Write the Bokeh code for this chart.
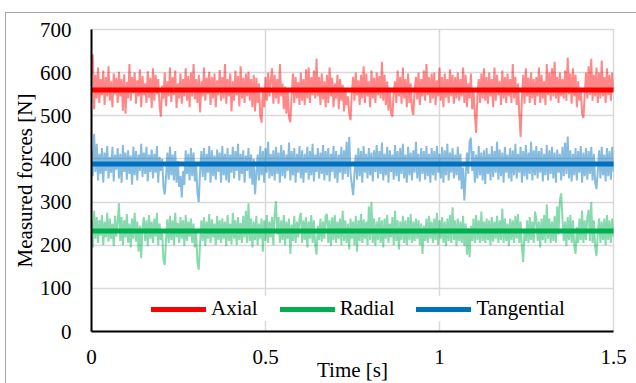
import numpy as np
from bokeh.plotting import figure
from bokeh.models import FixedTicker, Range1d, Legend, LegendItem
from bokeh.embed import file_html
from bokeh.resources import INLINE

# ---- data ----
axial = [
    600, 642, 515, 595, 540, 612, 530, 585, 548, 605, 525, 590, 545, 615, 535, 580, 520, 598, 550, 588,
    530, 602, 545, 585, 512, 596, 505, 578, 540, 620, 535, 590, 552, 600, 528, 582, 545, 608, 520, 592,
    548, 575, 530, 603, 542, 588, 518, 610, 535, 595, 550, 585, 525, 498, 570, 540, 600, 522, 580, 545,
    612, 532, 590, 548, 605, 518, 575, 540, 598, 528, 585, 545, 610, 535, 592, 520, 600, 545, 620, 538,
    585, 530, 595, 508, 580, 545, 612, 535, 588, 550, 602, 525, 590, 540, 598, 520, 582, 548, 606, 535,
    590, 540, 620, 528, 585, 545, 598, 510, 580, 535, 605, 548, 592, 522, 615, 540, 588, 530, 598, 545,
    602, 535, 585, 520, 595, 510, 588, 530, 575, 500, 484, 560, 520, 590, 535, 600, 545, 582, 610, 528,
    595, 540, 585, 528, 620, 545, 575, 515, 568, 505, 560, 495, 485, 550, 598, 530, 590, 540, 578, 525,
    600, 535, 585, 525, 608, 540, 612, 530, 590, 548, 605, 540, 632, 545, 590, 525, 598, 538, 580, 520,
    595, 530, 612, 545, 588, 520, 575, 540, 595, 515, 585, 535, 572, 510, 560, 525, 545, 505, 490, 555,
    590, 535, 600, 548, 582, 525, 595, 540, 615, 530, 598, 545, 580, 520, 605, 540, 588, 530, 600, 548,
    592, 540, 625, 535, 595, 525, 580, 512, 565, 505, 498, 555, 580, 530, 605, 545, 590, 528, 612, 540,
    585, 520, 598, 530, 575, 515, 502, 560, 590, 538, 600, 525, 585, 545, 605, 535, 620, 548, 590, 530,
    598, 540, 600, 525, 582, 545, 612, 535, 590, 520, 598, 542, 585, 530, 608, 545, 595, 528, 590, 540,
    600, 535, 585, 545, 612, 530, 595, 520, 575, 540, 598, 515, 560, 505, 460, 548, 585, 530, 598, 540,
    610, 535, 590, 528, 600, 545, 585, 520, 612, 535, 595, 548, 580, 525, 605, 540, 590, 530, 598, 545,
    585, 530, 620, 540, 590, 525, 575, 505, 451, 540, 595, 528, 610, 545, 588, 530, 600, 540, 585, 525,
    590, 545, 612, 530, 595, 540, 580, 525, 620, 548, 600, 535, 610, 545, 625, 540, 590, 530, 600, 545,
    585, 540, 605, 535, 635, 550, 598, 528, 610, 545, 595, 520, 580, 535, 565, 505, 495, 550, 600, 540,
    615, 548, 632, 535, 595, 545, 612, 530, 600, 540, 628, 545, 590, 530, 610, 548, 595, 535, 600, 560,
]
tangential = [
    420, 360, 458, 370, 435, 350, 412, 365, 425, 345, 415, 372, 430, 355, 405, 368, 428, 348, 410, 375,
    425, 355, 412, 345, 432, 370, 415, 352, 420, 365, 408, 340, 428, 362, 418, 350, 410, 372, 435, 358,
    415, 365, 428, 348, 410, 370, 422, 355, 412, 368, 430, 345, 405, 372, 400, 335, 318, 360, 415, 352,
    428, 362, 410, 350, 418, 345, 395, 335, 360, 311, 372, 340, 420, 365, 412, 350, 425, 360, 415, 348,
    385, 322, 300, 372, 418, 358, 425, 350, 412, 368, 430, 345, 420, 360, 408, 352, 422, 370, 415, 345,
    430, 362, 412, 350, 425, 345, 410, 368, 428, 355, 418, 372, 435, 350, 412, 365, 420, 345, 408, 372,
    425, 355, 410, 340, 400, 318, 365, 410, 350, 430, 362, 418, 345, 425, 368, 440, 355, 412, 360, 420,
    350, 428, 365, 415, 345, 432, 360, 420, 355, 410, 372, 438, 350, 418, 362, 425, 345, 412, 368, 430,
    355, 420, 345, 412, 368, 428, 352, 418, 362, 435, 348, 410, 370, 425, 355, 415, 365, 432, 350, 418,
    362, 425, 348, 412, 370, 430, 355, 418, 345, 410, 368, 428, 352, 420, 365, 440, 358, 451, 368, 340,
    316, 365, 410, 352, 425, 360, 418, 345, 430, 368, 412, 355, 425, 362, 415, 348, 420, 370, 432, 355,
    418, 365, 438, 350, 412, 362, 428, 345, 420, 370, 410, 352, 432, 360, 418, 348, 425, 365, 435, 355,
    410, 345, 428, 362, 415, 350, 420, 368, 440, 355, 412, 348, 425, 365, 418, 352, 430, 360, 412, 345,
    425, 362, 418, 350, 430, 368, 412, 355, 428, 345, 420, 362, 435, 350, 415, 368, 425, 355, 410, 362,
    428, 350, 412, 330, 380, 304, 360, 415, 365, 440, 449, 372, 418, 345, 410, 355, 430, 362, 415, 350,
    420, 342, 425, 365, 412, 350, 430, 358, 418, 368, 440, 352, 422, 360, 415, 345, 428, 368, 410, 355,
    425, 348, 420, 362, 435, 355, 412, 368, 428, 345, 418, 360, 432, 352, 415, 365, 440, 350, 420, 362,
    430, 355, 418, 368, 425, 348, 412, 362, 432, 350, 420, 365, 428, 355, 415, 345, 422, 368, 412, 350,
    428, 360, 438, 365, 452, 355, 420, 348, 412, 362, 425, 350, 418, 368, 430, 345, 415, 360, 425, 352,
    418, 365, 428, 350, 412, 345, 330, 372, 420, 355, 428, 362, 410, 348, 425, 360, 418, 352, 428, 370,
]
radial = [
    260, 195, 280, 215, 265, 205, 258, 222, 270, 200, 255, 218, 275, 208, 262, 215, 250, 198, 268, 220,
    255, 297, 210, 265, 200, 258, 218, 272, 205, 250, 195, 262, 215, 275, 208, 255, 185, 245, 170, 242,
    265, 210, 258, 198, 270, 215, 255, 205, 262, 220, 275, 200, 250, 212, 230, 165, 154, 215, 260, 205,
    268, 212, 258, 200, 275, 218, 252, 205, 265, 215, 258, 198, 270, 210, 255, 220, 262, 205, 250, 195,
    230, 160, 143, 205, 258, 210, 265, 198, 255, 215, 272, 205, 260, 218, 250, 200, 268, 212, 258, 205,
    262, 215, 255, 198, 270, 210, 250, 202, 275, 215, 258, 200, 265, 212, 252, 205, 268, 218, 280, 205,
    297, 210, 262, 195, 255, 212, 268, 200, 250, 215, 262, 185, 258, 210, 270, 205, 255, 218, 265, 200,
    272, 302, 225, 265, 205, 258, 212, 270, 200, 255, 215, 262, 180, 248, 210, 268, 205, 255, 218, 262,
    275, 205, 258, 212, 265, 195, 255, 215, 270, 205, 258, 200, 178, 245, 212, 262, 208, 255, 215, 268,
    272, 205, 258, 198, 265, 212, 270, 205, 255, 215, 262, 200, 280, 210, 258, 205, 250, 190, 262, 215,
    255, 200, 268, 185, 258, 210, 272, 205, 260, 215, 255, 200, 290, 212, 300, 205, 262, 198, 255, 212,
    265, 205, 258, 195, 262, 215, 270, 205, 250, 218, 265, 200, 280, 210, 258, 190, 255, 212, 268, 205,
    258, 200, 265, 212, 272, 205, 255, 210, 262, 215, 258, 200, 250, 180, 245, 210, 262, 205, 268, 215,
    255, 205, 262, 212, 275, 200, 258, 215, 265, 205, 255, 198, 262, 210, 270, 205, 288, 212, 258, 198,
    262, 210, 255, 205, 268, 198, 250, 178, 240, 172, 245, 210, 262, 205, 270, 212, 258, 205, 278, 210,
    255, 205, 262, 212, 258, 200, 265, 208, 255, 215, 268, 205, 258, 212, 285, 205, 262, 210, 250, 198,
    262, 212, 258, 205, 268, 215, 272, 205, 255, 195, 161, 235, 210, 258, 205, 265, 212, 255, 205, 278,
    262, 210, 255, 195, 262, 212, 270, 205, 295, 215, 262, 205, 255, 210, 268, 205, 290, 225, 305, 320,
    262, 210, 255, 198, 265, 212, 270, 205, 258, 200, 180, 242, 205, 262, 212, 280, 205, 258, 212, 265,
    282, 210, 300, 205, 258, 195, 175, 230, 262, 205, 255, 212, 262, 200, 270, 212, 258, 205, 262, 220,
]
series_names = ["Axial", "Radial", "Tangential"]
series_means = [560, 233, 388]
series_colors = ["#ff0000", "#00b050", "#0070c0"]
t_start, t_end = 0.0, 1.5
x_ticks = [0, 0.5, 1, 1.5]
x_tick_labels = ["0", "0.5", "1", "1.5"]
y_ticks = [0, 100, 200, 300, 400, 500, 600, 700]

FONT = "Liberation Serif"

p = figure(width=631, height=371, output_backend="svg", toolbar_location=None,
           x_range=Range1d(0, 1.5), y_range=Range1d(0, 700),
           min_border_left=85, min_border_right=24, min_border_top=16, min_border_bottom=51)
p.margin = (12, 0, 0, 5)
p.styles = {"border-left": "1px solid #a6a6a6", "border-top": "1px solid #a6a6a6"}
p.background_fill_color = "white"
p.border_fill_color = "white"
p.outline_line_color = "#d9d9d9"
p.outline_line_width = 1.5

noise = {"Axial": axial, "Radial": radial, "Tangential": tangential}
# noise traces
for name, col in [("Axial", "#ff0000"), ("Tangential", "#0070c0"), ("Radial", "#00b050")]:
    vals = noise[name]
    t = np.linspace(t_start, t_end, len(vals))
    p.line(t, vals, line_color=col, line_alpha=0.47, line_width=2)

items = []
for name, m, col in zip(series_names, series_means, series_colors):
    r = p.line([t_start, t_end], [m, m], line_color=col, line_width=5, line_cap="round")
    items.append(LegendItem(label=name, renderers=[r]))

# axes
for ax in (p.xaxis[0], p.yaxis[0]):
    ax.axis_line_color = "black"
    ax.axis_line_width = 2
    ax.major_tick_line_color = None
    ax.minor_tick_line_color = None
    ax.major_tick_out = 0
    ax.major_tick_in = 0
    ax.major_label_text_font = FONT
    ax.major_label_text_font_size = "21px"
    ax.major_label_text_color = "black"
    ax.axis_label_text_font = FONT
    ax.axis_label_text_font_size = "21px"
    ax.axis_label_text_font_style = "normal"
    ax.axis_label_text_color = "black"

p.xaxis.ticker = FixedTicker(ticks=x_ticks)
p.xaxis.major_label_overrides = {k: v for k, v in zip(x_ticks, x_tick_labels)}
p.yaxis.ticker = FixedTicker(ticks=y_ticks)
p.xaxis.axis_label = "Time [s]"
p.yaxis.axis_label = "Measured forces [N]"
p.xaxis.major_label_standoff = 18
p.xaxis.axis_label_standoff = -9
p.yaxis.major_label_standoff = 20
p.yaxis.axis_label_standoff = 0

p.xgrid.ticker = FixedTicker(ticks=[0.5, 1])
p.ygrid.ticker = FixedTicker(ticks=y_ticks)
for g in (p.xgrid[0], p.ygrid[0]):
    g.grid_line_color = "#d9d9d9"
    g.grid_line_width = 1.5

legend = Legend(items=items, orientation="horizontal", location=(60, 10),
                label_text_font=FONT, label_text_font_size="21px", label_text_color="black",
                glyph_width=55, glyph_height=20, label_standoff=5, spacing=22,
                padding=4, margin=0, border_line_color=None,
                background_fill_color="white", background_fill_alpha=1.0)
p.add_layout(legend, "center")

open("out.html", "w").write(file_html(p, INLINE))
